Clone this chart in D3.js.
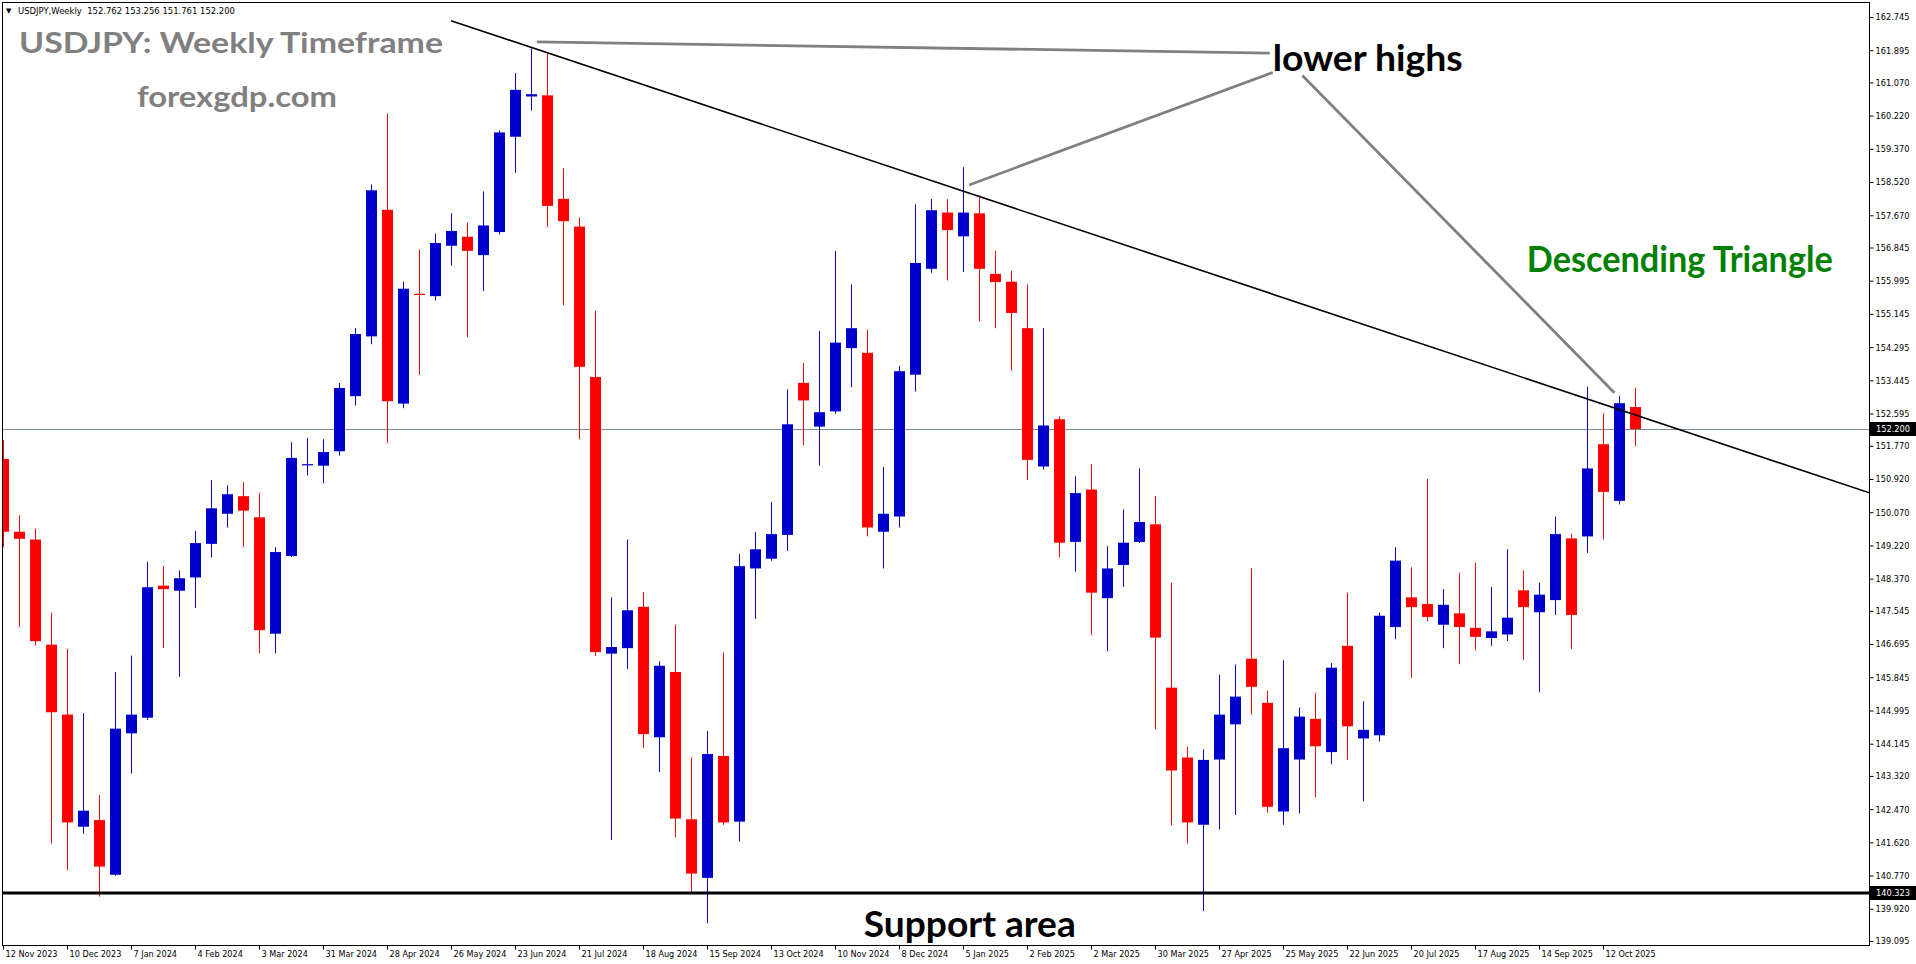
<!DOCTYPE html>
<html><head><meta charset="utf-8">
<script src="https://cdn.jsdelivr.net/npm/d3@7"></script>
<style>
html,body{margin:0;padding:0;background:#fff;overflow:hidden}
svg{display:block}
</style></head><body>
<svg id="chart" width="1916" height="964"></svg>
<script>
// ---------- DATA ----------
const symbolInfo = "USDJPY,Weekly  152.762 153.256 151.761 152.200";
const titleText = "USDJPY: Weekly Timeframe";
const siteText = "forexgdp.com";
const lowerHighsText = "lower highs";
const patternText = "Descending Triangle";
const supportText = "Support area";

const dateLabels = ["12 Nov 2023","10 Dec 2023","7 Jan 2024","4 Feb 2024","3 Mar 2024","31 Mar 2024","28 Apr 2024","26 May 2024","23 Jun 2024","21 Jul 2024","18 Aug 2024","15 Sep 2024","13 Oct 2024","10 Nov 2024","8 Dec 2024","5 Jan 2025","2 Feb 2025","2 Mar 2025","30 Mar 2025","27 Apr 2025","25 May 2025","22 Jun 2025","20 Jul 2025","17 Aug 2025","14 Sep 2025","12 Oct 2025"];
const labelStep = 4; // weekly bars between date labels

const priceTicks = [162.745,161.895,161.070,160.220,159.370,158.520,157.670,156.845,155.995,155.145,154.295,153.445,152.595,151.770,150.920,150.070,149.220,148.370,147.545,146.695,145.845,144.995,144.145,143.320,142.470,141.620,140.770,139.920,139.095];

const opens  = [151.43,149.57,149.37,146.68,144.89,142.02,142.19,140.79,144.41,144.81,148.19,148.06,148.40,149.26,150.03,150.48,149.94,146.96,148.95,151.27,
                151.26,151.63,153.04,154.57,157.81,152.85,155.66,155.60,156.89,157.12,156.65,157.24,159.68,160.71,160.74,158.09,157.38,153.53,146.45,146.59,
                147.65,144.31,145.98,142.21,140.71,143.83,142.15,148.63,148.88,149.49,153.38,152.26,152.65,154.27,154.15,149.57,149.96,153.59,156.30,157.74,
                157.13,157.72,156.17,155.97,154.78,151.24,152.45,149.31,150.65,147.87,148.72,149.31,149.76,145.58,143.79,142.07,143.74,144.64,146.32,145.19,
                142.41,143.74,144.78,143.93,146.65,144.28,144.36,147.13,147.89,147.72,147.19,147.48,147.11,146.85,146.94,148.07,147.51,147.82,149.40,149.45,
                151.81,150.36,152.762];
const highs  = [151.92,149.99,149.65,147.50,146.57,144.93,142.83,145.98,146.40,148.80,148.69,148.58,149.59,150.89,150.76,150.84,150.56,149.17,151.86,151.97,
                151.94,153.38,154.78,158.46,160.27,155.97,156.79,157.20,157.72,157.49,158.28,159.84,161.31,161.94,161.82,158.87,157.61,155.23,147.89,149.37,
                148.02,146.25,147.19,143.79,144.47,146.48,149.00,149.56,150.33,153.21,153.89,154.71,156.76,155.90,154.74,151.23,153.81,157.95,158.09,158.08,
                158.90,158.18,156.76,156.25,155.90,154.78,152.52,150.99,151.30,149.20,150.14,151.19,150.48,148.27,144.07,144.00,145.91,146.17,148.63,145.50,
                146.28,145.07,145.44,146.21,148.01,145.23,147.50,149.17,148.66,150.92,148.10,148.52,148.78,148.16,149.12,148.58,148.27,149.96,149.51,153.28,
                152.60,153.05,153.256];
const lows   = [149.18,147.13,146.66,141.59,140.91,141.84,140.23,140.76,143.38,144.75,146.60,145.86,147.62,148.91,149.68,149.18,146.46,146.46,148.92,151.01,
                150.81,151.52,152.80,154.37,151.84,152.73,153.59,155.49,156.38,154.55,155.73,157.18,158.76,160.35,157.37,155.37,151.94,146.39,141.68,146.06,
                144.03,143.42,141.75,140.32,139.55,142.07,141.64,147.34,148.83,149.08,151.78,151.26,152.59,153.27,149.45,148.63,149.68,153.16,156.20,156.00,
                156.22,154.95,154.78,153.70,150.90,151.16,148.91,148.55,146.93,146.51,148.16,149.28,144.51,142.05,141.59,139.86,141.95,142.32,144.90,142.38,
                142.07,142.36,142.77,143.62,143.73,142.67,144.20,146.82,145.83,147.28,146.59,146.18,146.54,146.65,146.77,146.29,145.46,147.44,146.57,149.03,
                149.37,150.27,151.761];
const closes = [149.57,149.39,146.77,144.95,142.13,142.43,141.00,144.53,144.89,148.15,148.10,148.38,149.28,150.17,150.53,150.11,147.05,149.05,151.46,151.30,
                151.61,153.25,154.63,158.31,152.91,155.79,155.63,156.96,157.27,156.76,157.41,159.79,160.88,160.77,157.91,157.52,153.79,146.49,146.62,147.56,
                144.39,146.14,142.23,140.82,143.88,142.13,148.69,149.12,149.51,152.32,152.93,152.63,154.41,154.78,149.68,150.03,153.68,156.45,157.80,157.29,
                157.74,156.30,155.96,155.17,151.41,152.29,149.29,150.56,148.01,148.63,149.29,149.82,146.86,143.46,142.13,143.73,144.89,145.35,145.60,142.53,
                144.03,144.84,144.08,146.09,144.59,144.50,147.42,148.83,147.64,147.39,147.70,147.13,146.88,147.02,147.37,147.64,147.96,149.51,147.44,151.19,
                150.59,152.86,152.200];

const currentPrice = 152.200;
const supportLevel = 140.323;
// trendline anchors: [bar index, price]
const trendLine = [[28, 162.65], [116.7, 150.56]];
// grey pointer lines for "lower highs": [bar index, price] pairs
const pointerLines = [
  [[33.36, 162.11], [79.17, 161.82]],
  [[60.38, 158.445], [79.36, 161.325]],
  [[81.21, 161.25], [100.71, 153.13]]
];
// annotation anchors: [bar index, price] of text baseline start
const lowerHighsAnchor = [79.36, 161.36];
const patternAnchor = [95.24, 156.22];
const supportAnchor = [53.8, 139.21];

// ---------- DRAW ----------
const W = 1916, H = 964;
const plot = {left: 2.5, top: 2.5, right: 1869.5, bottom: 945.5};
const n = opens.length;
const svg = d3.select("#chart");
svg.append("rect").attr("width", W).attr("height", H).attr("fill", "#fff");

const x = d3.scaleLinear().domain([0, n - 1]).range([3, 3 + 16 * (n - 1)]);
const y = d3.scaleLinear().domain([139.095, 162.745]).range([941, 17]);

svg.append("defs").append("clipPath").attr("id", "plotclip")
  .append("rect").attr("x", plot.left).attr("y", plot.top)
  .attr("width", plot.right - plot.left).attr("height", plot.bottom - plot.top);

const g = svg.append("g").attr("clip-path", "url(#plotclip)");

// current price line
g.append("line")
  .attr("x1", plot.left).attr("x2", plot.right)
  .attr("y1", Math.round(y(currentPrice)) + 0.5).attr("y2", Math.round(y(currentPrice)) + 0.5)
  .attr("stroke", "#778899").attr("stroke-width", 1);

// candles
const bull = "#0000CC", bear = "#FF0000";
const col = i => closes[i] >= opens[i] ? bull : bear;
const idx = d3.range(n);
const cx = i => Math.round(x(i));

g.selectAll("line.wick").data(idx).join("line").attr("class", "wick")
  .attr("x1", i => cx(i) + 0.5).attr("x2", i => cx(i) + 0.5)
  .attr("y1", i => y(highs[i])).attr("y2", i => y(lows[i]))
  .attr("stroke", col).attr("stroke-width", 1);

g.selectAll("rect.body").data(idx).join("rect").attr("class", "body")
  .attr("x", i => cx(i) - 5).attr("width", 11)
  .attr("y", i => y(Math.max(opens[i], closes[i])))
  .attr("height", i => Math.max(1.2, Math.abs(y(opens[i]) - y(closes[i]))))
  .attr("fill", col);

// support line
g.append("line")
  .attr("x1", plot.left).attr("x2", plot.right)
  .attr("y1", y(supportLevel)).attr("y2", y(supportLevel))
  .attr("stroke", "#000").attr("stroke-width", 3);

// trendline
const lineGen = d3.line().x(d => x(d[0])).y(d => y(d[1]));
g.append("path").datum(trendLine).attr("d", lineGen)
  .attr("fill", "none").attr("stroke", "#000").attr("stroke-width", 1.6);

// pointer lines
g.selectAll("path.pointer").data(pointerLines).join("path").attr("class", "pointer")
  .attr("d", lineGen).attr("fill", "none")
  .attr("stroke", "#808080").attr("stroke-width", 2.8);

// annotations
const bold = "Lato, 'Open Sans', sans-serif";
function label(txt, px, py, size, color, len) {
  return svg.append("text").attr("x", px).attr("y", py)
    .attr("font-family", bold).attr("font-weight", "bold")
    .attr("font-size", size).attr("fill", color)
    .attr("textLength", len).attr("lengthAdjust", "spacingAndGlyphs")
    .text(txt);
}
label(titleText, 19, 53, 29, "#808080", 424);
label(siteText, 137, 107, 29, "#808080", 200);
label(lowerHighsText, x(lowerHighsAnchor[0]), y(lowerHighsAnchor[1]), 37, "#000", 190);
label(patternText, x(patternAnchor[0]), y(patternAnchor[1]), 36, "#008000", 306);
label(supportText, x(supportAnchor[0]), y(supportAnchor[1]), 37, "#000", 212);

// header info
svg.append("text").attr("x", 6).attr("y", 13).attr("font-family", "DejaVu Sans")
  .attr("font-size", 7).attr("fill", "#000").text("\u25BC");
svg.append("text").attr("x", 18).attr("y", 14).attr("font-family", "DejaVu Sans, sans-serif")
  .attr("font-size", 9.5).attr("fill", "#000")
  .attr("textLength", 217).attr("lengthAdjust", "spacingAndGlyphs")
  .attr("xml:space", "preserve").text(symbolInfo);

// frame
svg.append("rect").attr("x", plot.left).attr("y", plot.top)
  .attr("width", plot.right - plot.left).attr("height", plot.bottom - plot.top)
  .attr("fill", "none").attr("stroke", "#000").attr("stroke-width", 1);

// price axis
const yAxis = svg.append("g").attr("transform", `translate(${plot.right},0)`)
  .call(d3.axisRight(y).tickValues(priceTicks).tickFormat(d3.format(".3f")).tickSize(4).tickPadding(2));
yAxis.select(".domain").remove();
yAxis.selectAll("text").attr("font-family", "DejaVu Sans, sans-serif").attr("font-size", 9).attr("fill", "#000");
yAxis.selectAll("line").attr("stroke", "#000");

// date axis
const xAxis = svg.append("g").attr("transform", `translate(0,${plot.bottom})`)
  .call(d3.axisBottom(x).tickValues(dateLabels.map((d, i) => i * labelStep))
    .tickFormat((d, i) => dateLabels[i]).tickSize(4).tickPadding(2));
xAxis.select(".domain").remove();
xAxis.selectAll("line").attr("stroke", "#000");
xAxis.selectAll("text").attr("font-family", "DejaVu Sans, sans-serif").attr("font-size", 9.5)
  .attr("fill", "#000").attr("text-anchor", "start").attr("dx", 2).attr("dy", "0.6em");

// compress axis labels to the narrow terminal font widths
function squeeze(sel, sample, target) {
  let f = 1;
  sel.each(function () { if (this.textContent === sample) f = target / this.getComputedTextLength(); });
  sel.each(function () {
    this.setAttribute("textLength", this.getComputedTextLength() * f);
    this.setAttribute("lengthAdjust", "spacingAndGlyphs");
  });
}
squeeze(xAxis.selectAll("text"), "12 Nov 2023", 52);
squeeze(yAxis.selectAll("text"), "162.745", 34);

// highlighted price labels
function priceTag(v) {
  const t = svg.append("g");
  t.append("rect").attr("x", plot.right + 0.5).attr("y", y(v) - 7)
    .attr("width", W - plot.right - 0.5).attr("height", 14).attr("fill", "#000");
  t.append("text").attr("x", plot.right + 6.5).attr("y", y(v)).attr("dy", "0.35em")
    .attr("font-family", "DejaVu Sans, sans-serif").attr("font-size", 9).attr("fill", "#fff")
    .attr("textLength", 34).attr("lengthAdjust", "spacingAndGlyphs")
    .text(d3.format(".3f")(v));
}
priceTag(currentPrice);
priceTag(supportLevel);
</script>
</body></html>
